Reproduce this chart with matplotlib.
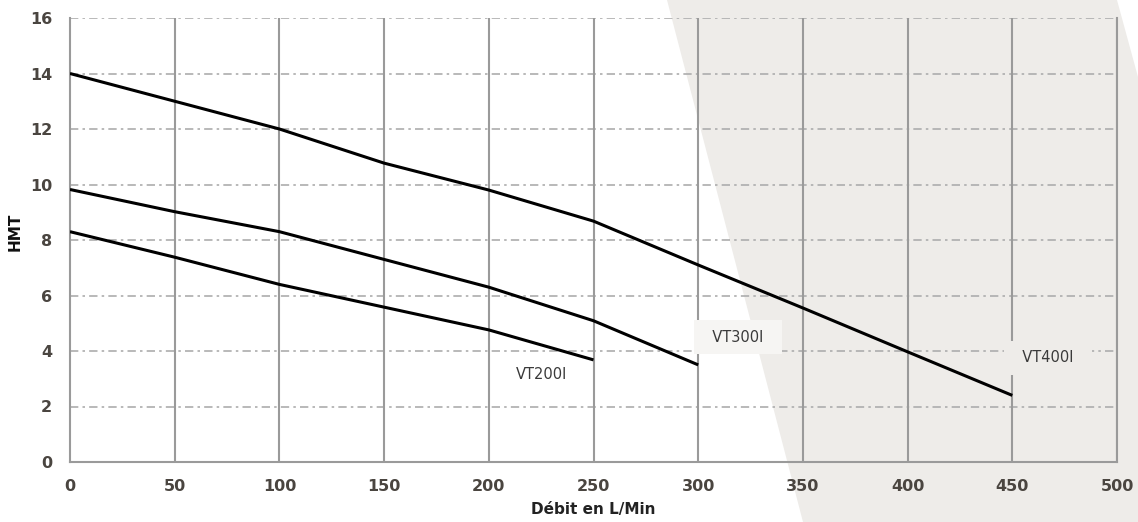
import matplotlib
matplotlib.use("Agg")
import matplotlib.pyplot as plt
from matplotlib.patches import Polygon

# ---- data ----
flow = [0, 50, 100, 150, 200, 250, 300, 350, 400, 450]
vt400 = [14.0, 13.0, 12.0, 10.77, 9.8, 8.68, 7.1, 5.55, 3.97, 2.4]
flow300 = [0, 50, 100, 150, 200, 250, 300]
vt300 = [9.82, 9.02, 8.3, 7.3, 6.3, 5.09, 3.5]
flow200 = [0, 50, 100, 150, 200, 250]
vt200 = [8.3, 7.38, 6.4, 5.58, 4.76, 3.68]
x_ticks = [0, 50, 100, 150, 200, 250, 300, 350, 400, 450, 500]
y_ticks = [0, 2, 4, 6, 8, 10, 12, 14, 16]
labels = ["VT200I", "VT300I", "VT400I"]

W, H = 1138, 522
fig = plt.figure(figsize=(W / 100, H / 100), dpi=100)
fig.patch.set_facecolor("white")

# background diagonal band (figure coords)
bg = "#eeece9"
poly_px = [(667, 0), (1117, 0), (1138, 77), (1138, 522), (803, 522)]
poly = Polygon([(x / W, 1 - y / H) for x, y in poly_px], closed=True,
               transform=fig.transFigure, facecolor=bg, edgecolor="none", zorder=-5)
fig.patches.append(poly)

ax = fig.add_axes([70 / W, 1 - 462 / H, (1117 - 70) / W, (462 - 18) / H])
ax.set_zorder(2)
ax.set_facecolor("none")

grid_v = "#9a9a9a"
grid_h = "#adadad"

# horizontal dash-dot grid
for yv in y_ticks[1:]:
    ax.axhline(yv, color=grid_h, lw=1.2, linestyle=(0, (5, 2.5, 1.5, 2.5)), zorder=1)
# vertical solid grid
for xv in x_ticks[1:]:
    ax.axvline(xv, color=grid_v, lw=1.5, zorder=1)

ax.plot(flow, vt400, color="black", lw=2.2, zorder=3, solid_capstyle="butt")
ax.plot(flow300, vt300, color="black", lw=2.2, zorder=3, solid_capstyle="butt")
ax.plot(flow200, vt200, color="black", lw=2.2, zorder=3, solid_capstyle="butt")

tcol = "#3a3a3a"
ax.text(225.4, 3.14, labels[0], ha="center", va="center", fontsize=10.5,
        color=tcol, zorder=4)
ax.text(319, 4.5, "  " + labels[1] + "  ", ha="center", va="center", fontsize=10.5,
        color=tcol, zorder=4,
        bbox=dict(boxstyle="square,pad=0.65", facecolor="#f6f5f3", edgecolor="none"))
ax.text(467, 3.75, "  " + labels[2] + "  ", ha="center", va="center", fontsize=10.5,
        color=tcol, zorder=4,
        bbox=dict(boxstyle="square,pad=0.65", facecolor=bg, edgecolor="none"))

ax.set_xlim(0, 500)
ax.set_ylim(0, 16)
ax.set_xticks(x_ticks)
ax.set_yticks(y_ticks)
ax.tick_params(axis="both", length=0, labelsize=11.5, labelcolor="#4a4540")
ax.tick_params(axis="x", pad=12)
ax.tick_params(axis="y", pad=13)
for lab in ax.get_xticklabels() + ax.get_yticklabels():
    lab.set_fontweight("bold")

for s in ["left", "bottom", "right"]:
    ax.spines[s].set_color(grid_v)
    ax.spines[s].set_linewidth(1.5)
ax.spines["top"].set_visible(False)

ax.set_xlabel("Débit en L/Min", fontsize=11, fontweight="bold", color="#222222")
ax.xaxis.set_label_coords(0.5, -0.108)
ax.xaxis.label.set_va("center")
ax.set_ylabel("HMT", fontsize=11, fontweight="bold", color="#111111")
ax.yaxis.set_label_coords(-0.0525, 0.518)
ax.yaxis.label.set_va("center")

fig.savefig("out.png", dpi=100)
